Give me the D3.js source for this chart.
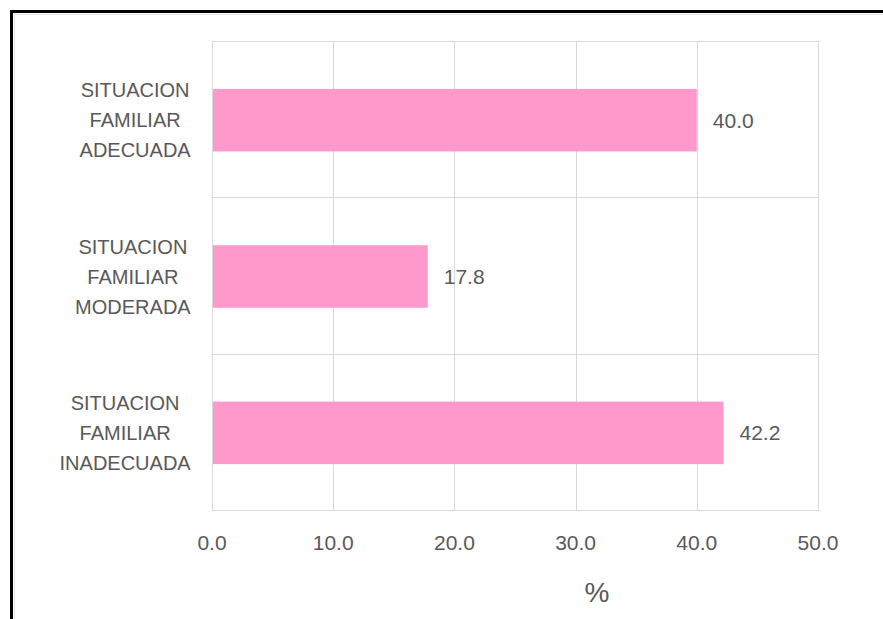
<!DOCTYPE html>
<html><head><meta charset="utf-8">
<script src="https://cdn.jsdelivr.net/npm/d3@7"></script>
<style>body{margin:0;background:#fff}svg{display:block}</style>
</head><body>
<script>
const categories = [
  ["SITUACION","FAMILIAR","ADECUADA"],
  ["SITUACION","FAMILIAR","MODERADA"],
  ["SITUACION","FAMILIAR","INADECUADA"]
];
const values = [40.0, 17.8, 42.2];
const xTicks = [0, 10, 20, 30, 40, 50];
const xTitle = "%";

const W = 883, H = 619;
const m = {left: 212, right: 818, top: 41, bottom: 510};
const font = "'Liberation Sans', Arial, sans-serif";
const grey = "#595959";

const svg = d3.select("body").append("svg").attr("width", W).attr("height", H);
svg.append("rect").attr("width", W).attr("height", H).attr("fill", "#fff");

// outer black frame (top + left visible)
svg.append("line").attr("x1", 10).attr("x2", W).attr("y1", 11.5).attr("y2", 11.5).attr("stroke", "#000").attr("stroke-width", 3);
svg.append("line").attr("x1", 11.5).attr("x2", 11.5).attr("y1", 10).attr("y2", H).attr("stroke", "#000").attr("stroke-width", 3);
svg.append("line").attr("x1", 14.5).attr("x2", W).attr("y1", 14.5).attr("y2", 14.5).attr("stroke", "#e6e6e6").attr("stroke-width", 1);
svg.append("line").attr("x1", 14.5).attr("x2", 14.5).attr("y1", 14.5).attr("y2", H).attr("stroke", "#e6e6e6").attr("stroke-width", 1);

const x = d3.scaleLinear().domain([0, 50]).range([m.left, m.right]);
const keys = categories.map((c, i) => i);
const y = d3.scaleBand().domain(keys).range([m.top, m.bottom]).paddingInner(0.6).paddingOuter(0.3);

// vertical gridlines
svg.append("g").selectAll("line").data(xTicks).join("line")
  .attr("x1", d => Math.round(x(d)) + 0.5).attr("x2", d => Math.round(x(d)) + 0.5)
  .attr("y1", m.top).attr("y2", m.bottom)
  .attr("stroke", "#d9d9d9").attr("stroke-width", 1);

// category separators
const step = y.step();
svg.append("g").selectAll("line").data(keys.slice(1)).join("line")
  .attr("x1", m.left).attr("x2", m.right)
  .attr("y1", d => Math.round(y(d) - step * 0.3) + 0.5).attr("y2", d => Math.round(y(d) - step * 0.3) + 0.5)
  .attr("stroke", "#d9d9d9").attr("stroke-width", 1);

// plot border
svg.append("rect").attr("x", m.left + 0.5).attr("y", m.top + 0.5)
  .attr("width", m.right - m.left).attr("height", m.bottom - m.top)
  .attr("fill", "none").attr("stroke", "#d9d9d9");

// bars
svg.append("g").selectAll("rect").data(values).join("rect")
  .attr("x", x(0) + 1).attr("y", (d, i) => y(i) + 1)
  .attr("width", d => x(d) - x(0) - 1).attr("height", y.bandwidth())
  .attr("fill", "#ff99cc");

// data labels
svg.append("g").selectAll("text").data(values).join("text")
  .attr("x", d => x(d) + 16).attr("y", (d, i) => y(i) + y.bandwidth() / 2 + 1)
  .attr("dy", "0.35em")
  .attr("font-family", font).attr("font-size", 21).attr("fill", grey)
  .text(d => d.toFixed(1));

// category labels: block right-aligned, lines centered within block
const blockRight = 191;
const cl = svg.append("g").selectAll("text").data(categories).join("text")
  .attr("text-anchor", "middle")
  .attr("font-family", font).attr("font-size", 20).attr("fill", grey);
cl.selectAll("tspan").data(d => d).join("tspan")
  .attr("x", 0).attr("y", (d, j) => (j - 1) * 30).attr("dy", "0.35em")
  .text(d => d);
cl.each(function(d, i) {
  const bw = this.getBBox().width;
  d3.select(this).attr("transform", `translate(${blockRight - bw / 2},${y(i) + y.bandwidth() / 2 + 1})`);
});

// x tick labels
svg.append("g").selectAll("text").data(xTicks).join("text")
  .attr("x", d => x(d)).attr("y", 550)
  .attr("text-anchor", "middle")
  .attr("font-family", font).attr("font-size", 21).attr("fill", grey)
  .text(d => d.toFixed(1));

// axis title
svg.append("text").attr("x", (m.left + m.right) / 2 + 82).attr("y", 602)
  .attr("text-anchor", "middle")
  .attr("font-family", font).attr("font-size", 28).attr("fill", grey)
  .text(xTitle);
</script>
</body></html>
